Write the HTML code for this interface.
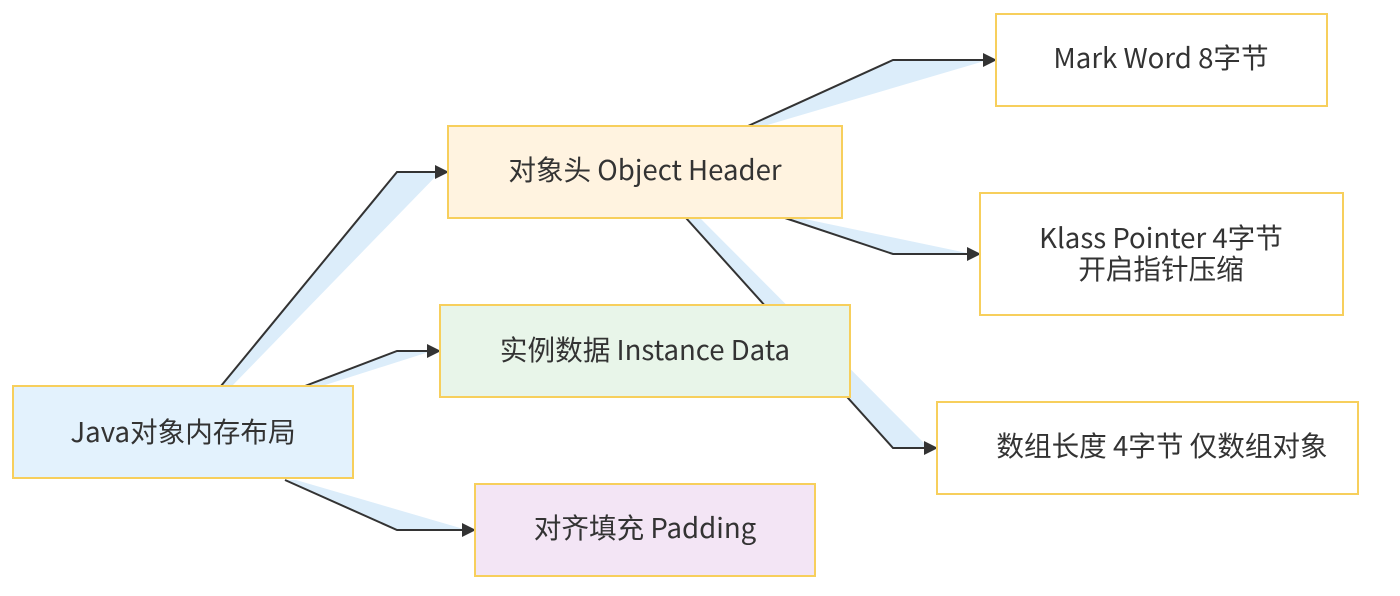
<!DOCTYPE html>
<html><head><meta charset="utf-8"><style>
html,body{margin:0;padding:0;background:#fff;}
svg text{font-family:"Noto Sans CJK SC","Liberation Sans",sans-serif;font-size:27.6px;fill:#333;text-anchor:middle;dominant-baseline:central;}
</style></head><body>
<svg width="1400" height="591" viewBox="0 0 1400 591" xmlns="http://www.w3.org/2000/svg">
<defs><marker id="a" markerWidth="14" markerHeight="14" refX="13" refY="7" orient="auto" markerUnits="userSpaceOnUse"><path d="M0,0 L14,7 L0,14 z" fill="#333"/></marker></defs>
<g fill="#dcedfa" stroke="none">
<polygon points="221,386 397,172 440,172 232,386"/>
<polygon points="305,386 397,351 432,351 322,386"/>
<polygon points="285,480 397,530 467,530 296,480"/>
<polygon points="748,126 893,60 988,60 764,126"/>
<polygon points="785,218 893,254 972,254 800,218"/>
<polygon points="686,218 893,448 929,448 700,218"/>
</g>
<g fill="none" stroke="#333" stroke-width="2" marker-end="url(#a)">
<polyline points="221,386 397,172 448,172"/>
<polyline points="305,386 397,351 440,351"/>
<polyline points="285,480 397,530 475,530"/>
<polyline points="748,126 893,60 996,60"/>
<polyline points="785,218 893,254 980,254"/>
<polyline points="686,218 893,448 937,448"/>
</g>
<g stroke="#f7cf5c" stroke-width="2">
<rect x="13" y="386" width="340" height="92" fill="#e3f2fd"/>
<rect x="448" y="126" width="394" height="92" fill="#fff3e0"/>
<rect x="440" y="305" width="410" height="92" fill="#e8f5e9"/>
<rect x="475" y="484" width="340" height="92" fill="#f3e5f5"/>
<rect x="996" y="14" width="331" height="92" fill="#fff"/>
<rect x="980" y="193" width="363" height="122" fill="#fff"/>
<rect x="937" y="402" width="421" height="92" fill="#fff"/>
</g>
<text x="183" y="430">Java对象内存布局</text>
<text x="645" y="168">对象头 Object Header</text>
<text x="645" y="348">实例数据 Instance Data</text>
<text x="645" y="526">对齐填充 Padding</text>
<text x="1161" y="56">Mark Word 8字节</text>
<text x="1161" y="236">Klass Pointer 4字节</text>
<text x="1161" y="267">开启指针压缩</text>
<text x="1162" y="444">数组长度 4字节 仅数组对象</text>
</svg>
</body></html>
